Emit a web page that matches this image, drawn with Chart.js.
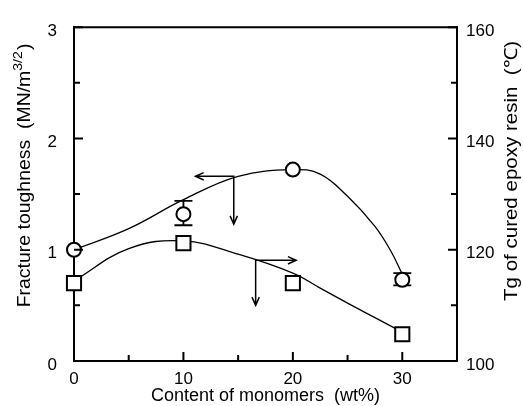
<!DOCTYPE html>
<html lang="en">
<head>
<meta charset="UTF-8">
<title>Fracture toughness and Tg vs monomer content</title>
<script src="https://cdn.jsdelivr.net/npm/chart.js"></script>
<style>
    html, body { margin: 0; padding: 0; background: #fff; }
    #wrap { width: 523px; height: 406px; }
</style>
</head>
<body>
<div id="wrap"><canvas id="chart"></canvas></div>
<script>
    // monomer content (wt%)
    const content = [0, 10, 20, 30];
    // fracture toughness, MN/m^3/2 (circles, left axis)
    const toughness = [1.00, 1.32, 1.72, 0.73];
    const toughErrLow = [null, 1.22, null, 0.68];
    const toughErrHigh = [null, 1.44, null, 0.79];
    // Tg of cured epoxy resin, deg C (squares, right axis)
    const tg = [114.0, 121.2, 114.0, 104.8];

    // the hand drawn trend curves
    const toughFitX = [0, 5, 10, 15, 20, 22.5, 25, 27.5, 29, 30];
    const toughFit = [1.00, 1.19, 1.45, 1.66, 1.72, 1.68, 1.48, 1.21, 0.98, 0.78];
    const tgFitX = [0, 5, 10, 15, 20, 22.5, 25, 27.5, 30];
    const tgFit = [114.4, 120.2, 121.6, 119.2, 115.8, 113.1, 110.4, 107.8, 105.2];

    // arrows: corner, horizontal tip, vertical tip
    const arrowTough = [[14.6, 1.66], [11.1, 1.66], [14.6, 1.23]];
    const arrowTg = [[16.6, 118.1], [20.3, 118.1], [16.6, 110.0]];

    // labelled ticks
    const xLabels = [0, 10, 20, 30];
    const yLabels = [0, 1, 2, 3];
    const y1Labels = [100, 120, 140, 160];

    const FONT = "'Liberation Sans', Arial, Helvetica, sans-serif";
    Chart.defaults.font.family = FONT;
    Chart.defaults.color = '#000';

    const pts = (xs, ys) => xs.map((x, i) => ({x: x, y: ys[i]}));

    function head(ctx, x, y, dx, dy) {
        const len = 9, a = 0.42;
        const ang = Math.atan2(dy, dx);
        ctx.moveTo(x - len * Math.cos(ang - a), y - len * Math.sin(ang - a));
        ctx.lineTo(x, y);
        ctx.lineTo(x - len * Math.cos(ang + a), y - len * Math.sin(ang + a));
    }

    function drawArrow(chart, arr, yId) {
        const ctx = chart.ctx, sx = chart.scales.x, sy = chart.scales[yId];
        const p = arr.map(a => [sx.getPixelForValue(a[0]), sy.getPixelForValue(a[1])]);
        ctx.beginPath();
        ctx.moveTo(p[1][0], p[1][1]);
        ctx.lineTo(p[0][0], p[0][1]);
        ctx.lineTo(p[2][0], p[2][1]);
        head(ctx, p[1][0], p[1][1], p[1][0] - p[0][0], 0);
        head(ctx, p[2][0], p[2][1], 0, p[2][1] - p[0][1]);
        ctx.stroke();
    }

    const figure = {
        id: 'figure',
        beforeDatasetsDraw(chart) {
            const ctx = chart.ctx, sx = chart.scales.x, sy = chart.scales.y;
            ctx.save();
            ctx.strokeStyle = '#000';
            ctx.lineWidth = 1.8;
            content.forEach((c, i) => {
                if (toughErrLow[i] == null) return;
                const x = sx.getPixelForValue(c);
                const lo = sy.getPixelForValue(toughErrLow[i]);
                const hi = sy.getPixelForValue(toughErrHigh[i]);
                ctx.beginPath();
                ctx.moveTo(x, lo); ctx.lineTo(x, hi);
                ctx.moveTo(x - 9, lo); ctx.lineTo(x + 9, lo);
                ctx.moveTo(x - 9, hi); ctx.lineTo(x + 9, hi);
                ctx.stroke();
            });
            ctx.restore();
        },
        afterDatasetsDraw(chart) {
            const ctx = chart.ctx;
            ctx.save();
            ctx.strokeStyle = '#000';
            ctx.lineWidth = 1.5;
            drawArrow(chart, arrowTough, 'y');
            drawArrow(chart, arrowTg, 'y1');
            ctx.restore();
        },
        afterDraw(chart) {
            const ctx = chart.ctx, a = chart.chartArea;
            ctx.save();
            ctx.strokeStyle = '#000';
            ctx.lineWidth = 2;
            // top of the frame
            ctx.beginPath();
            ctx.moveTo(a.left - 1, a.top);
            ctx.lineTo(a.right + 1, a.top);
            ctx.stroke();
            // inward ticks
            ctx.beginPath();
            chart.scales.x.ticks.forEach(t => {
                const x = chart.scales.x.getPixelForValue(t.value);
                const l = xLabels.includes(t.value) ? 9 : 6;
                ctx.moveTo(x, a.bottom); ctx.lineTo(x, a.bottom - l);
            });
            chart.scales.y.ticks.forEach(t => {
                const y = chart.scales.y.getPixelForValue(t.value);
                const l = yLabels.includes(t.value) ? 9 : 6;
                ctx.moveTo(a.left, y); ctx.lineTo(a.left + l, y);
            });
            chart.scales.y1.ticks.forEach(t => {
                const y = chart.scales.y1.getPixelForValue(t.value);
                const l = y1Labels.includes(t.value) ? 9 : 6;
                ctx.moveTo(a.right, y); ctx.lineTo(a.right - l, y);
            });
            ctx.stroke();

            // axis titles on the sides
            ctx.fillStyle = '#000';
            ctx.textBaseline = 'alphabetic';
            const main = 'Fracture toughness  (MN/m', sup = '3/2', end = ')';
            ctx.font = '18px ' + FONT;
            const w1 = ctx.measureText(main).width, w3 = ctx.measureText(end).width;
            ctx.font = '13px ' + FONT;
            const w2 = ctx.measureText(sup).width;
            ctx.save();
            ctx.translate(30, 176);
            ctx.rotate(-Math.PI / 2);
            ctx.scale(1.08, 1);
            let x0 = -(w1 + w2 + w3) / 2;
            ctx.font = '18px ' + FONT;
            ctx.fillText(main, x0, 0);
            ctx.font = '13px ' + FONT;
            ctx.fillText(sup, x0 + w1, -8);
            ctx.font = '18px ' + FONT;
            ctx.fillText(end, x0 + w1 + w2 + 1, 0);
            ctx.restore();

            ctx.save();
            ctx.translate(517, 171);
            ctx.rotate(-Math.PI / 2);
            ctx.scale(1.14, 1);
            ctx.font = '18px ' + FONT;
            ctx.textAlign = 'center';
            ctx.fillText('Tg of cured epoxy resin  (\u2103)', 0, 0);
            ctx.restore();
            ctx.restore();
        }
    };

    const tickFont = {size: 17};
    const data = {
        datasets: [
            {
                label: 'Fracture toughness',
                data: pts(content, toughness),
                yAxisID: 'y',
                showLine: false,
                pointStyle: 'circle',
                pointRadius: 7,
                pointBorderWidth: 2,
                pointBackgroundColor: '#fff',
                pointBorderColor: '#000',
                clip: false
            },
            {
                label: 'Tg',
                data: pts(content, tg),
                yAxisID: 'y1',
                showLine: false,
                pointStyle: 'rect',
                pointRadius: 10,
                pointBorderWidth: 2,
                pointBackgroundColor: '#fff',
                pointBorderColor: '#000',
                clip: false
            },
            {
                label: 'toughness trend',
                data: pts(toughFitX, toughFit),
                yAxisID: 'y',
                showLine: true,
                borderColor: '#000',
                borderWidth: 1.3,
                pointRadius: 0,
                tension: 0.4,
                fill: false
            },
            {
                label: 'Tg trend',
                data: pts(tgFitX, tgFit),
                yAxisID: 'y1',
                showLine: true,
                borderColor: '#000',
                borderWidth: 1.3,
                pointRadius: 0,
                tension: 0.4,
                fill: false
            }
        ]
    };

    const config = {
        type: 'scatter',
        data: data,
        options: {
            responsive: true,
            maintainAspectRatio: false,
            animation: false,
            layout: {padding: {top: 12, left: 0, right: 0, bottom: 0}},
            plugins: {
                legend: {display: false},
                tooltip: {enabled: false}
            },
            scales: {
                x: {
                    type: 'linear',
                    min: 0,
                    max: 35,
                    grid: {display: false, drawTicks: false},
                    border: {display: true, color: '#000', width: 2},
                    ticks: {
                        stepSize: 5,
                        padding: 8,
                        maxRotation: 0,
                        autoSkip: false,
                        font: tickFont,
                        callback: v => xLabels.includes(v) ? v : ''
                    },
                    title: {
                        display: true,
                        text: 'Content of monomers  (wt%)',
                        font: {size: 18, lineHeight: 1},
                        padding: {top: 0, bottom: 1}
                    },
                    afterFit: s => { s.height = 45; }
                },
                y: {
                    type: 'linear',
                    position: 'left',
                    min: 0,
                    max: 3,
                    grid: {display: false, drawTicks: false},
                    border: {display: true, color: '#000', width: 2},
                    ticks: {
                        stepSize: 0.5,
                        padding: 17,
                        labelOffset: 4,
                        autoSkip: false,
                        font: tickFont,
                        callback: v => yLabels.includes(v) ? v : ''
                    },
                    afterFit: s => { s.width = 74; }
                },
                y1: {
                    type: 'linear',
                    position: 'right',
                    min: 100,
                    max: 160,
                    grid: {display: false, drawTicks: false},
                    border: {display: true, color: '#000', width: 2},
                    ticks: {
                        stepSize: 10,
                        padding: 9,
                        labelOffset: 4,
                        autoSkip: false,
                        font: tickFont,
                        callback: v => y1Labels.includes(v) ? v : ''
                    },
                    afterFit: s => { s.width = 66; }
                }
            }
        },
        plugins: [figure]
    };

    const chart = new Chart(document.getElementById('chart'), config);
</script>
</body>
</html>
